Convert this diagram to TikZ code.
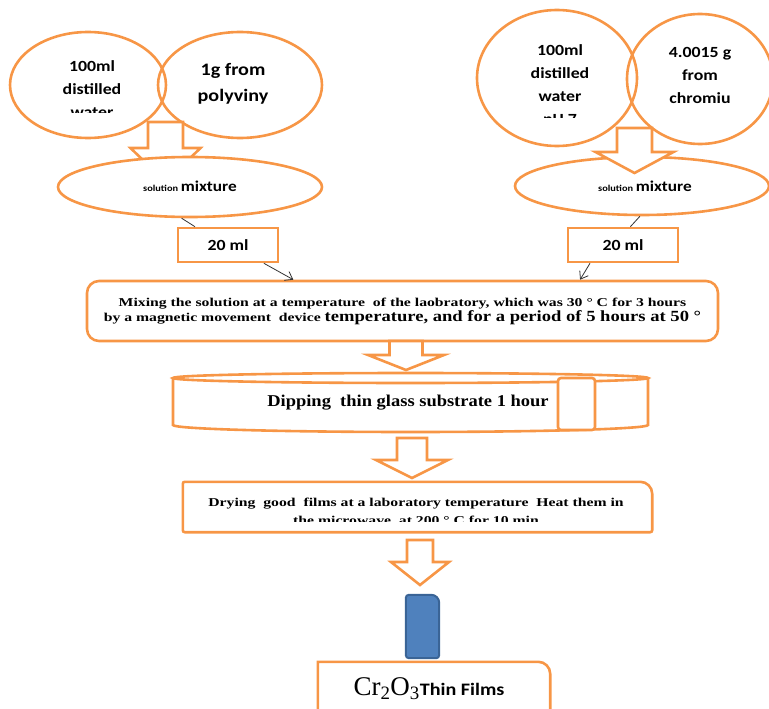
\documentclass[tikz,border=0pt]{standalone}
\usepackage{fontspec}
\setmainfont{Liberation Serif}
\setsansfont{Carlito}
\newfontfamily\wideserif[FakeStretch=1.12]{Liberation Serif}
\newfontfamily\mixserif[FakeStretch=1.31]{Liberation Serif}
\newfontfamily\bigmixserif[FakeStretch=1.2]{Liberation Serif}
\newfontfamily\widesans[FakeStretch=1.15]{Carlito}
\usetikzlibrary{shapes.geometric,arrows.meta}
\definecolor{boxorange}{HTML}{F79646}
\definecolor{filmblue}{HTML}{4F81BD}
\definecolor{filmedge}{HTML}{3A6496}
% hollow block arrow: x, top, neck, tip, shaft half width, head half width
\newcommand{\blockarrow}[6]{%
  \draw[orangeline, fill=white, line join=miter] ({#1-#5},#2) -- ({#1+#5},#2) -- ({#1+#5},#3) -- ({#1+#6},#3) -- (#1,#4) -- ({#1-#6},#3) -- ({#1-#5},#3) -- cycle;}
\begin{document}
\begin{tikzpicture}[x=1pt,y=-1pt,
    orangeline/.style={draw=boxorange, line width=2.6pt},
    oval/.style={orangeline, ellipse, inner sep=0pt},
    ovaltext/.style={font=\widesans\bfseries\fontsize{15.5}{23}\selectfont, align=center, inner sep=0pt},
    mlbox/.style={orangeline, rectangle, minimum width=100, minimum height=34, inner sep=0pt, font=\widesans\bfseries\fontsize{15.5}{16}\selectfont},
    thinarrow/.style={draw=black!80, line width=0.8pt, -{Straight Barb[length=7pt,width=10pt]}},
    thinline/.style={draw=black!80, line width=0.8pt}]
    \useasboundingbox (0,0) rectangle (769,709);
    %% left branch: water + polyvinyl
    \node[oval, minimum width=156, minimum height=106] at (88,85) (waterL) {};
    \node[oval, minimum width=164, minimum height=106] at (240,85) (pva) {};
    \begin{scope}
        \clip (30,40) rectangle (150,112);
        \node[ovaltext] at (92,89.5) (waterLtxt) {100ml\\distilled\\water};
    \end{scope}
    \node[ovaltext, font=\widesans\bfseries\fontsize{17.5}{26}\selectfont] at (233,84) (pvatxt) {1g from\\polyviny};
    \blockarrow{165.5}{122}{148}{182}{17.5}{35}
    \node[oval, fill=white, minimum width=264, minimum height=60] at (190,187) (smixL) {};
    \node[font=\widesans\bfseries, inner sep=0pt] at (190,186) (smixLtxt) {{\fontsize{9}{10}\selectfont solution} {\fontsize{15}{16}\selectfont mixture}};
    % right branch: water + chromium
    \node[oval, minimum width=160, minimum height=136] at (557,78) (waterR) {};
    \node[oval, minimum width=146, minimum height=130] at (700,79) (chrom) {};
    \begin{scope}
        \clip (490,20) rectangle (630,117);
        \node[ovaltext] at (560,86) (waterRtxt) {100ml\\distilled\\water\\pH 7};
    \end{scope}
    \node[ovaltext] at (700,75) (chromtxt) {4.0015 g\\from\\chromiu};
    \node[oval, fill=white, minimum width=254, minimum height=58] at (642,186) (smixR) {};
    \blockarrow{634.5}{128}{152}{173}{17.5}{39}
    \node[font=\widesans\bfseries, inner sep=0pt] at (645,186) (smixRtxt) {{\fontsize{9}{10}\selectfont solution} {\fontsize{15}{16}\selectfont mixture}};
    % 20 ml portions
    \node[mlbox] at (228,245) (mlL) {20 ml};
    \node[mlbox, minimum width=110] at (623,245) (mlR) {20 ml};
    \node[orangeline, rounded corners=12pt, minimum width=631, minimum height=60, inner sep=0pt,
          align=center, font=\mixserif\bfseries\fontsize{12}{16}\selectfont] at (402.5,311) (mix)
          {Mixing the solution at a temperature\ \ of the laobratory, which was 30 ° C for 3 hours\\[-1pt]
           by a magnetic movement\ \ device {\bigmixserif\fontsize{15.5}{16}\selectfont temperature, and for a period of 5 hours at 50 °}};
    \draw[thinline] (smixL.-105) -- (mlL.151);
    \draw[thinline] (smixR.-94) -- (mlR.68);
    \draw[thinarrow] (mlL.-27) -- (mix.164);
    \draw[thinarrow] (mlR.-151) -- (mix.10);
    %% dipping
    \blockarrow{406}{341}{355}{370}{16.5}{38}
    \draw[orangeline, fill=white] (173,378) -- (173,425) arc[start angle=180, end angle=360, x radius=237.5pt, y radius=7pt] -- (648,378);
    \draw[orangeline, fill=white] (410.5,378) ellipse [x radius=237.5pt, y radius=5pt];
    \node[orangeline, fill=white, rounded corners=3pt, minimum width=37, minimum height=52, inner sep=0pt] at (576.5,404) (tab) {};
    \node[font=\wideserif\bfseries\fontsize{16.5}{18}\selectfont, inner sep=0pt] at (408,403) (dip) {Dipping\ \ thin glass substrate 1 hour};
    %% drying
    \blockarrow{412}{438}{460}{478}{15}{36}
    \node[minimum width=469, minimum height=50, inner sep=0pt] at (417.5,507) (dry) {};
    \draw[orangeline] (dry.south west) [rounded corners=2pt] -- (dry.north west) [rounded corners=12pt] -- (dry.north east) [rounded corners=2pt] -- (dry.south east) -- cycle;
    \begin{scope}
        \clip (185,484) rectangle (650,521.5);
        \node[align=center, inner sep=0pt, font=\mixserif\bfseries\fontsize{12}{18}\selectfont] at (416,511.5) (drytxt)
            {Drying\ \ good\ \ films at a laboratory temperature\ \ Heat them in\\the microwave\ \ at 200 ° C for 10 min};
    \end{scope}
    %% product
    \blockarrow{420}{540}{562}{585}{13}{29}
    \node[minimum width=33, minimum height=63, inner sep=0pt] at (422.5,626.5) (film) {};
    \draw[draw=filmedge, fill=filmblue, line width=2pt] (film.south west) [rounded corners=3pt] -- (film.north west) [rounded corners=8pt] -- (film.north east) [rounded corners=3pt] -- (film.south east) -- cycle;
    \node[minimum width=232, minimum height=60, inner sep=0pt] at (434,692) (thin) {};
    \draw[orangeline] (thin.south west) -- (thin.north west) [rounded corners=12pt] -- (thin.north east) [sharp corners] -- (thin.south east);
    \node[inner sep=0pt] at (429,689) (thintxt) {\fontsize{27}{28}\selectfont Cr\textsubscript{2}O\textsubscript{3}{\widesans\bfseries\fontsize{17.5}{18}\selectfont Thin Films}};
\end{tikzpicture}
\end{document}
